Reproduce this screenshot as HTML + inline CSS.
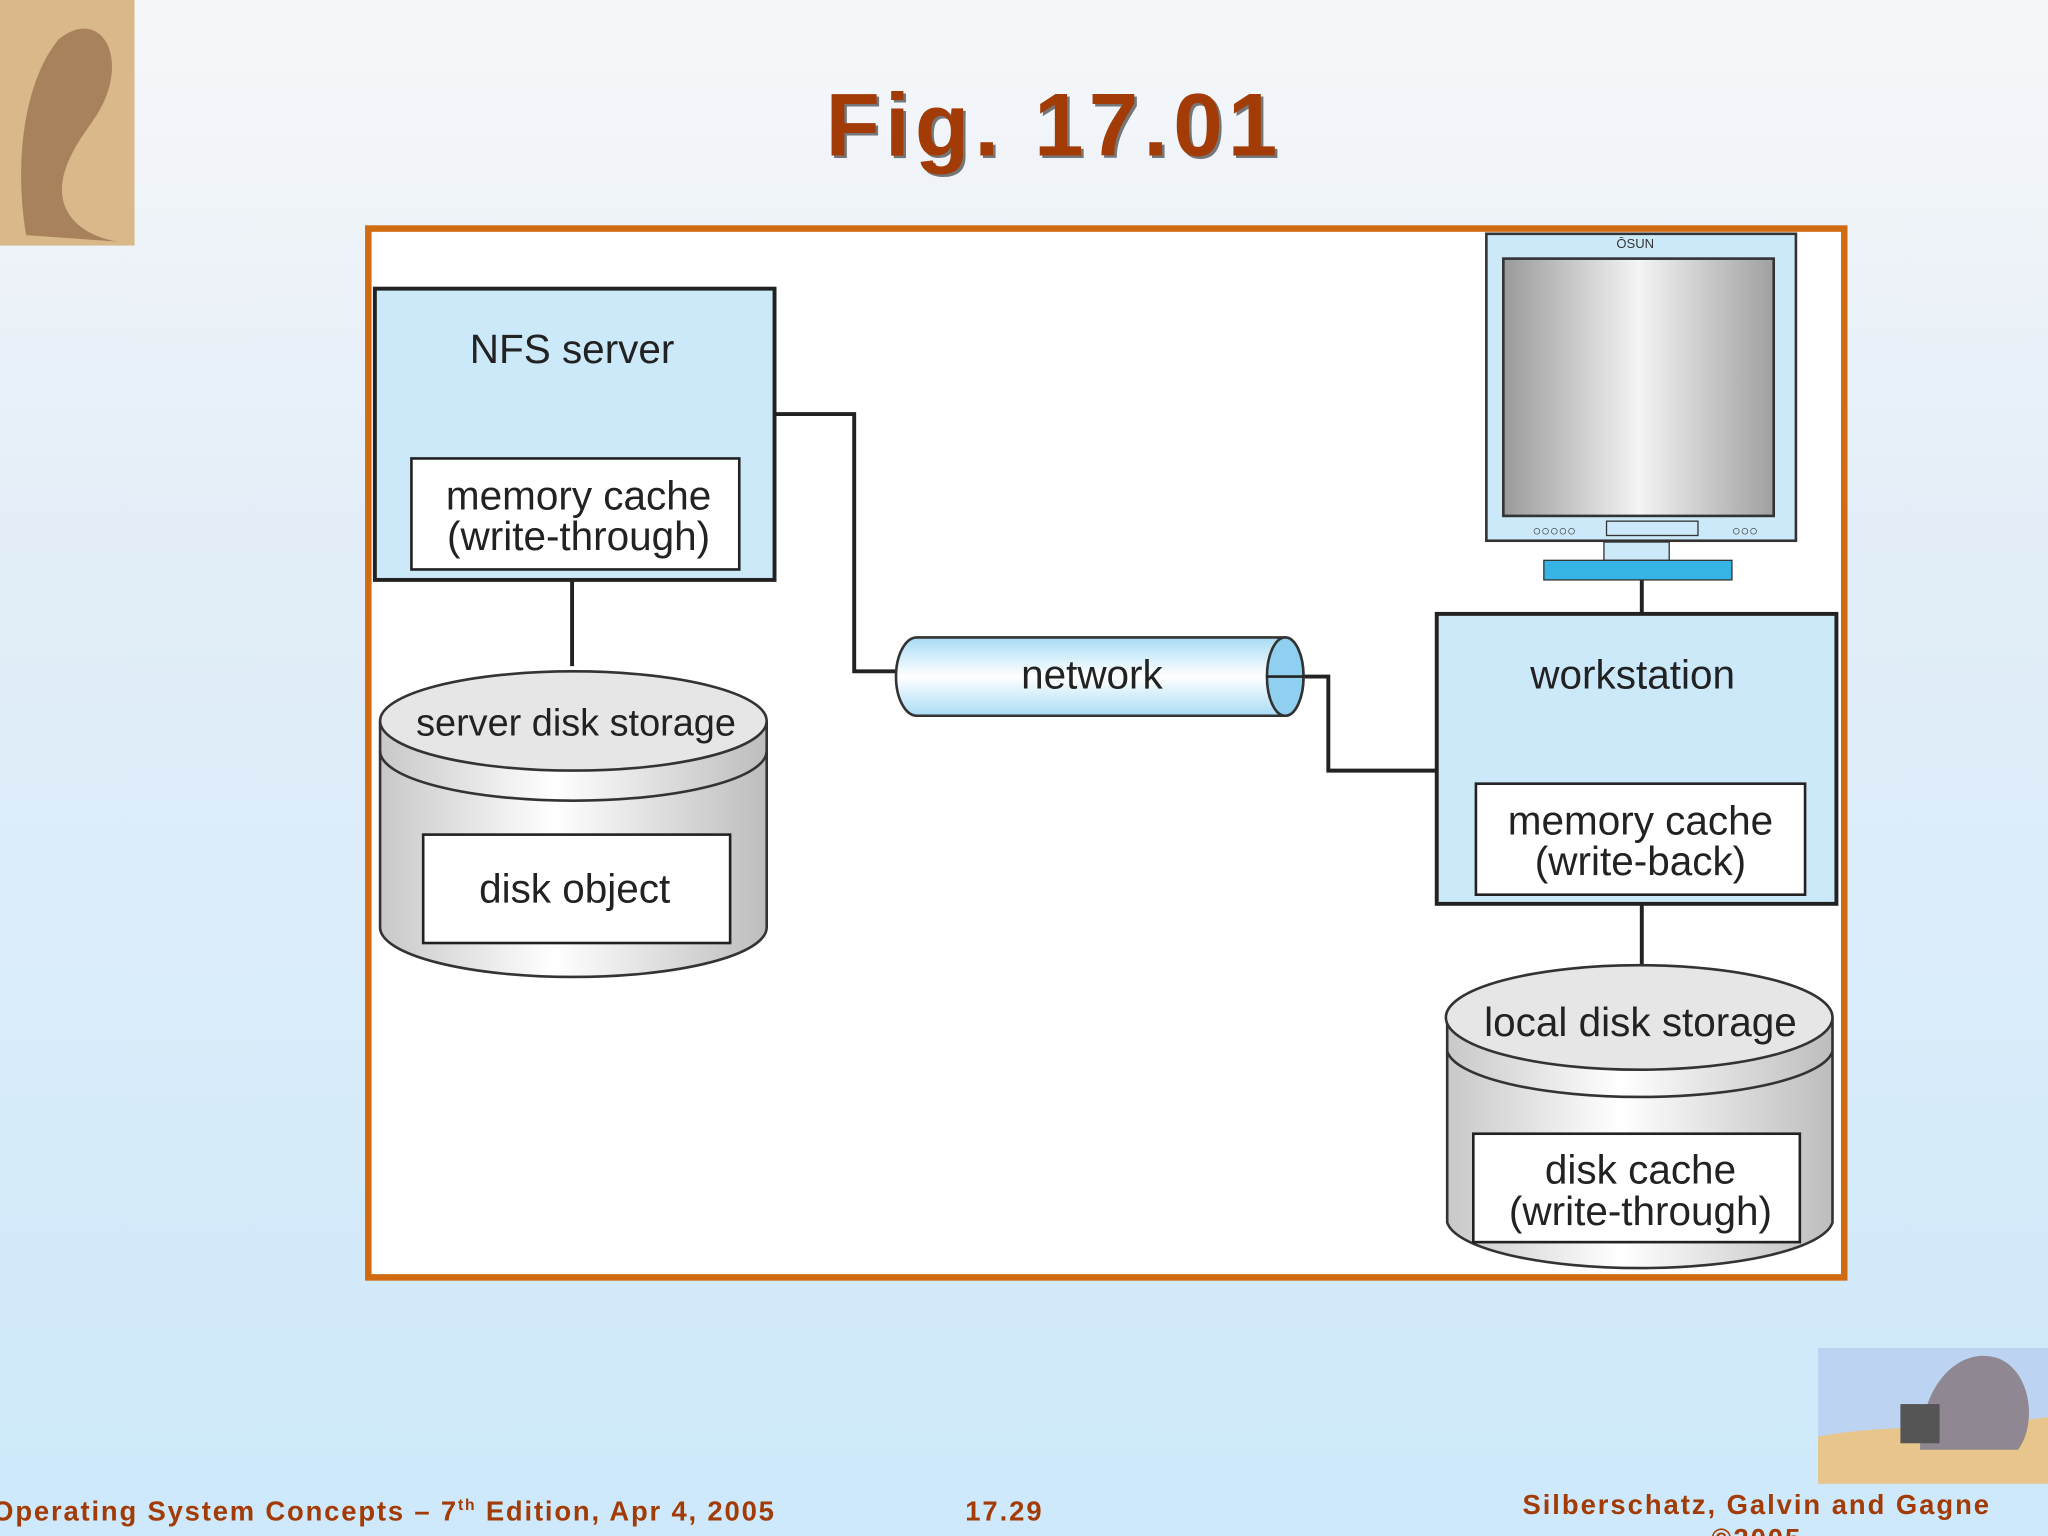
<!DOCTYPE html>
<html><head><meta charset="utf-8"><style>
html,body{margin:0;padding:0;width:2048px;height:1536px;overflow:hidden;}
svg{display:block;}
text{font-family:"Liberation Sans",sans-serif;}
</style></head><body>
<svg width="2048" height="1536" viewBox="0 0 1568 1176" xmlns="http://www.w3.org/2000/svg">
<defs>
<linearGradient id="bg" x1="0" y1="0" x2="0" y2="1">
<stop offset="0" stop-color="#f6f7f9"/><stop offset="0.35" stop-color="#e3eef8"/><stop offset="1" stop-color="#cde9fb"/>
</linearGradient>
<linearGradient id="cyl" x1="0" y1="0" x2="1" y2="0">
<stop offset="0" stop-color="#c8c8c8"/><stop offset="0.45" stop-color="#ffffff"/><stop offset="1" stop-color="#bdbdbd"/>
</linearGradient>
<linearGradient id="scr" x1="0" y1="0" x2="1" y2="0">
<stop offset="0" stop-color="#9a9a9a"/><stop offset="0.5" stop-color="#f4f4f4"/><stop offset="1" stop-color="#a0a0a0"/>
</linearGradient>
<linearGradient id="net" x1="0" y1="0" x2="0" y2="1">
<stop offset="0" stop-color="#a8dcf5"/><stop offset="0.5" stop-color="#ffffff"/><stop offset="1" stop-color="#a8dcf5"/>
</linearGradient>
</defs>
<rect width="1568" height="1176" fill="url(#bg)"/>
<rect x="0" y="0" width="103" height="188" fill="#d9b88a"/>
<path d="M20 180 C10 120 20 60 45 30 C70 10 90 30 85 60 C80 90 60 100 50 130 C40 160 60 180 90 185 Z" fill="#a8825c"/>
<rect x="1392" y="1032" width="176" height="104" fill="#bcd3f1"/>
<path d="M1392 1100 C1440 1090 1500 1095 1568 1085 L1568 1136 L1392 1136 Z" fill="#e8c58a"/>
<path d="M1470 1110 C1470 1060 1500 1030 1530 1040 C1555 1050 1560 1090 1545 1110 Z" fill="#8f8791"/>
<rect x="1455" y="1075" width="30" height="30" fill="#555"/>
<text x="809" y="121" text-anchor="middle" font-size="68" font-weight="bold" fill="#222" opacity="0.6" letter-spacing="4">Fig. 17.01</text>
<text x="807" y="119" text-anchor="middle" font-size="68" font-weight="bold" fill="#a33b06" letter-spacing="4">Fig. 17.01</text>
<rect x="282" y="175" width="1130" height="803" fill="#fff" stroke="#d06b12" stroke-width="5"/>
<g stroke="#222" stroke-width="3" fill="none">
<polyline points="594,317 654,317 654,514 688,514"/>
<polyline points="996,518 1017,518 1017,590 1101,590"/>
<line x1="438" y1="444" x2="438" y2="510"/>
<line x1="1257" y1="444" x2="1257" y2="470"/>
<line x1="1257" y1="692" x2="1257" y2="740"/>
</g>
<rect x="287" y="221" width="306" height="223" fill="#cce9fa" stroke="#222" stroke-width="3"/>
<text x="438" y="278" text-anchor="middle" font-size="31" fill="#222">NFS server</text>
<rect x="315" y="351" width="251" height="85" fill="#fff" stroke="#222" stroke-width="2"/>
<text x="443" y="390" text-anchor="middle" font-size="31" fill="#222">memory cache</text>
<text x="443" y="421" text-anchor="middle" font-size="31" fill="#222">(write-through)</text>
<path d="M291 552 L291 710 A148 38 0 0 0 587 710 L587 552" fill="url(#cyl)" stroke="#333" stroke-width="2"/>
<ellipse cx="439" cy="552" rx="148" ry="38" fill="#e6e6e6" stroke="#333" stroke-width="2"/>
<path d="M291 575 A148 38 0 0 0 587 575" fill="none" stroke="#333" stroke-width="2"/>
<text x="441" y="563" text-anchor="middle" font-size="29" fill="#222">server disk storage</text>
<rect x="324" y="639" width="235" height="83" fill="#fff" stroke="#222" stroke-width="2"/>
<text x="440" y="691" text-anchor="middle" font-size="31" fill="#222">disk object</text>
<path d="M702 488 L984 488 A14 30 0 0 1 984 548 L702 548 A16 30 0 0 1 702 488 Z" fill="url(#net)" stroke="#333" stroke-width="2"/>
<ellipse cx="984" cy="518" rx="14" ry="30" fill="#8fd0f0" stroke="#333" stroke-width="2"/>
<line x1="970" y1="518" x2="998" y2="518" stroke="#222" stroke-width="2"/>
<text x="836" y="527" text-anchor="middle" font-size="31" fill="#222">network</text>
<rect x="1138" y="179" width="237" height="235" fill="#cce9fa" stroke="#333" stroke-width="2"/>
<rect x="1151" y="198" width="207" height="197" fill="url(#scr)" stroke="#333" stroke-width="2"/>
<text x="1252" y="190" text-anchor="middle" font-size="10" fill="#333">ŌSUN</text>
<text x="1190" y="410" text-anchor="middle" font-size="11" fill="#333">○○○○○</text>
<rect x="1230" y="399" width="70" height="11" fill="none" stroke="#333" stroke-width="1"/>
<text x="1336" y="410" text-anchor="middle" font-size="11" fill="#333">○○○</text>
<rect x="1228" y="415" width="50" height="14" fill="#cce9fa" stroke="#333" stroke-width="1"/>
<rect x="1182" y="429" width="144" height="15" fill="#36b4e6" stroke="#333" stroke-width="1"/>
<rect x="1100" y="470" width="306" height="222" fill="#cce9fa" stroke="#222" stroke-width="3"/>
<text x="1250" y="527" text-anchor="middle" font-size="31" fill="#222">workstation</text>
<rect x="1130" y="600" width="252" height="85" fill="#fff" stroke="#222" stroke-width="2"/>
<text x="1256" y="639" text-anchor="middle" font-size="31" fill="#222">memory cache</text>
<text x="1256" y="670" text-anchor="middle" font-size="31" fill="#222">(write-back)</text>
<path d="M1108 779 L1108 936 A148 38 0 0 0 1403 936 L1403 779" fill="url(#cyl)" stroke="#333" stroke-width="2"/>
<ellipse cx="1255" cy="779" rx="148" ry="40" fill="#e6e6e6" stroke="#333" stroke-width="2"/>
<path d="M1108 805 A148 38 0 0 0 1403 805" fill="none" stroke="#333" stroke-width="2"/>
<text x="1256" y="793" text-anchor="middle" font-size="31" fill="#222">local disk storage</text>
<rect x="1128" y="868" width="250" height="83" fill="#fff" stroke="#222" stroke-width="2"/>
<text x="1256" y="906" text-anchor="middle" font-size="31" fill="#222">disk cache</text>
<text x="1256" y="938" text-anchor="middle" font-size="31" fill="#222">(write-through)</text>
<text x="-6" y="1164" font-size="21" font-weight="bold" fill="#a33b06" letter-spacing="1.4">Operating System Concepts – 7<tspan font-size="12" dy="-8">th</tspan><tspan dy="8"> Edition, Apr 4, 2005</tspan></text>
<text x="769" y="1164" text-anchor="middle" font-size="21" font-weight="bold" fill="#a33b06" letter-spacing="1.5">17.29</text>
<text x="1345" y="1159" text-anchor="middle" font-size="21" font-weight="bold" fill="#a33b06" letter-spacing="1.5">Silberschatz, Galvin and Gagne</text>
<text x="1345" y="1185" text-anchor="middle" font-size="21" font-weight="bold" fill="#a33b06" letter-spacing="1.5">©2005</text>
</svg>
</body></html>
